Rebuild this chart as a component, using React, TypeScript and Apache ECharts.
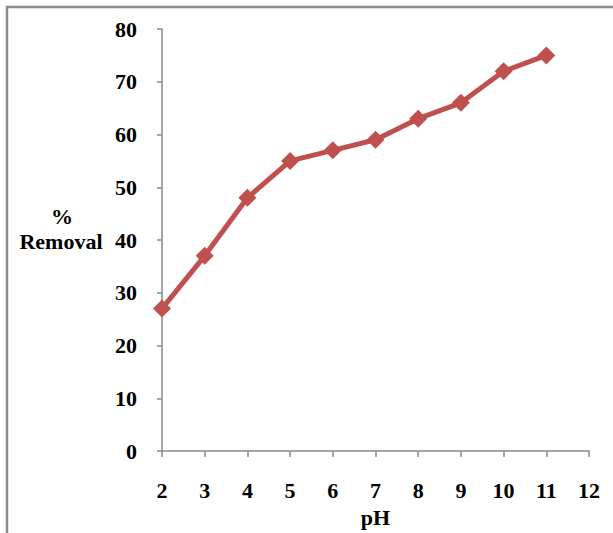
import React, { useEffect, useRef } from "react";
import * as echarts from "echarts";

const phValues = [2, 3, 4, 5, 6, 7, 8, 9, 10, 11];
const removal = [27, 37, 48, 55, 57, 59, 63, 66, 72, 75];
const xAxisTitle = "pH";
const yAxisTitle = ["%", "Removal"];

const FONT = "'Liberation Serif', 'Times New Roman', serif";
const FS = 22;

export default function App() {
  const ref = useRef<HTMLDivElement>(null);
  useEffect(() => {
    document.body.style.margin = "0";
    const chart = echarts.init(ref.current!, undefined, { renderer: "svg" });
    const axisColor = "#898989";
    chart.setOption({
      animation: false,
      backgroundColor: "#ffffff",
      grid: { left: 162, right: 24, top: 29, bottom: 80, containLabel: false },
      xAxis: {
        type: "value",
        min: 2,
        max: 12,
        interval: 1,
        name: xAxisTitle,
        nameLocation: "middle",
        nameGap: 55,
        nameTextStyle: { fontFamily: FONT, fontWeight: "bold", fontSize: FS, color: "#000" },
        axisLine: { show: true, lineStyle: { color: axisColor, width: 1.5 } },
        axisTick: { show: true, length: 6, lineStyle: { color: axisColor, width: 1.5 } },
        splitLine: { show: false },
        axisLabel: { margin: 28, fontFamily: FONT, fontWeight: "bold", fontSize: FS, color: "#000" },
      },
      yAxis: {
        type: "value",
        min: 0,
        max: 80,
        interval: 10,
        axisLine: { show: true, lineStyle: { color: axisColor, width: 1.5 } },
        axisTick: { show: true, length: 5, lineStyle: { color: axisColor, width: 1.5 } },
        splitLine: { show: false },
        axisLabel: { margin: 25, fontFamily: FONT, fontWeight: "bold", fontSize: FS, color: "#000" },
      },
      graphic: [
        {
          type: "rect",
          shape: { x: 7, y: 7, width: 800, height: 700 },
          style: { fill: "none", stroke: "#8a8a8a", lineWidth: 2.5 },
          silent: true,
        },
        {
          type: "text",
          x: 62,
          y: 216,
          style: {
            text: yAxisTitle[0],
            font: `bold ${FS}px ${FONT}`,
            fill: "#000",
            align: "center",
            verticalAlign: "middle",
          },
        },
        {
          type: "text",
          x: 61,
          y: 241,
          style: {
            text: yAxisTitle[1],
            font: `bold ${FS}px ${FONT}`,
            fill: "#000",
            align: "center",
            verticalAlign: "middle",
          },
        },
      ],
      series: [
        {
          type: "line",
          data: phValues.map((x, i) => [x, removal[i]]),
          lineStyle: { color: "#C0504D", width: 5 },
          itemStyle: { color: "#C0504D" },
          symbol: "diamond",
          symbolSize: 18,
          showSymbol: true,
        },
      ],
    });
    return () => chart.dispose();
  }, []);
  return (
    <div
      ref={ref}
      style={{ position: "absolute", left: 0, top: 0, width: 613, height: 533 }}
    />
  );
}
